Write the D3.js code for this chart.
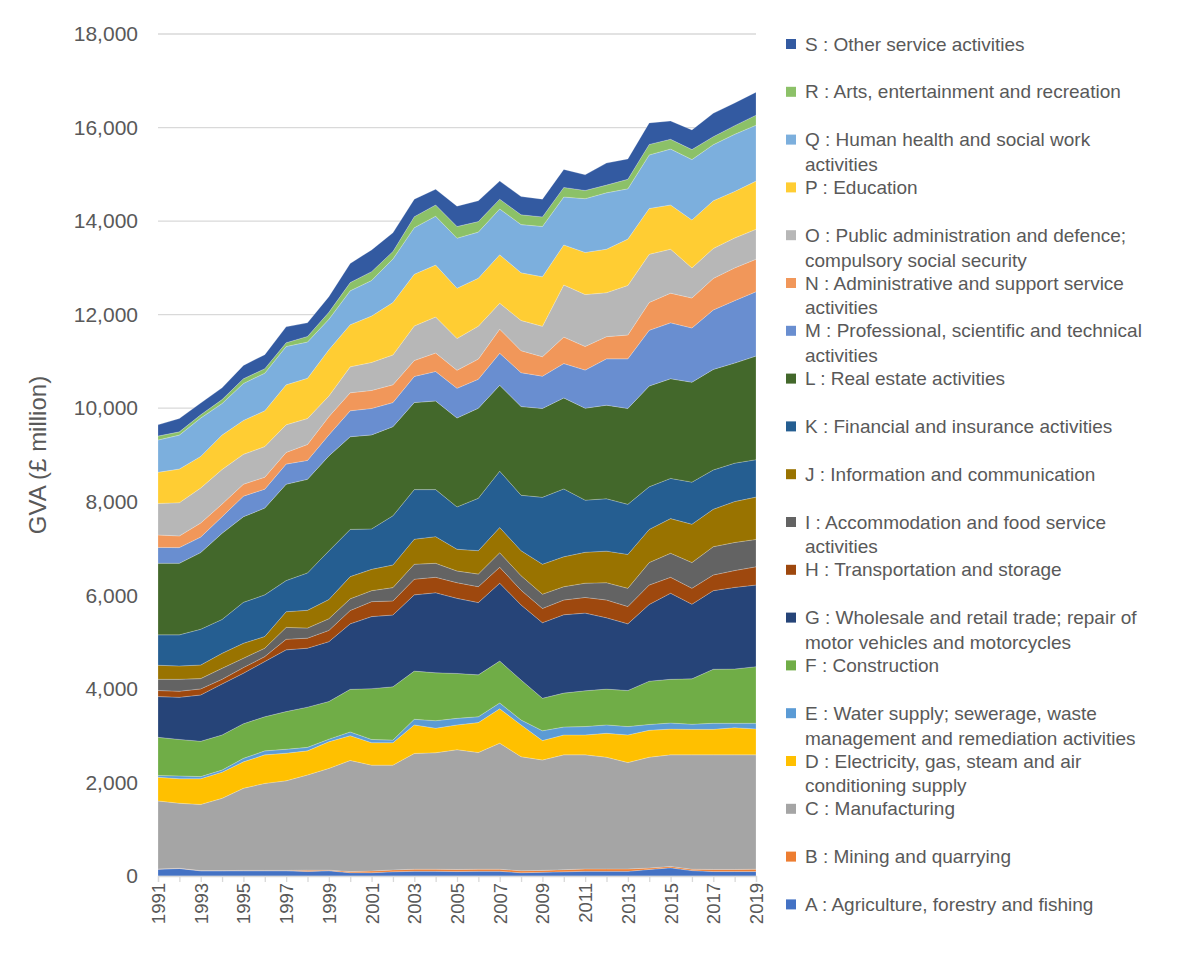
<!DOCTYPE html>
<html>
<head>
<meta charset="utf-8">
<script src="https://cdn.jsdelivr.net/npm/d3@7"></script>
<style>
  body { margin: 0; background: #fff; }
  svg { font-family: "Liberation Sans", Arial, sans-serif; }
</style>
</head>
<body>
<div id="chart"></div>
<script>
// Years on the x axis
const years = [1991, 1992, 1993, 1994, 1995, 1996, 1997, 1998, 1999, 2000,
               2001, 2002, 2003, 2004, 2005, 2006, 2007, 2008, 2009, 2010,
               2011, 2012, 2013, 2014, 2015, 2016, 2017, 2018, 2019];

// GVA by industry (£ million), bottom layer first
const A = [145, 160, 110, 110, 110, 110, 110, 95, 110, 70, 70, 90, 100, 100, 95, 100, 100, 70, 80, 90, 100, 100, 100, 140, 175, 115, 95, 95, 95];
const B = [5, 5, 5, 5, 10, 10, 10, 30, 15, 25, 35, 40, 45, 45, 45, 45, 45, 40, 40, 45, 50, 50, 50, 30, 30, 30, 45, 45, 50];
const C = [1455, 1390, 1415, 1545, 1755, 1860, 1915, 2035, 2175, 2375, 2265, 2240, 2475, 2490, 2560, 2495, 2695, 2440, 2360, 2455, 2440, 2390, 2275, 2370, 2385, 2445, 2450, 2450, 2445];
const D = [505, 525, 550, 560, 565, 610, 590, 515, 570, 530, 480, 480, 610, 525, 530, 640, 735, 680, 415, 425, 425, 510, 590, 575, 550, 545, 545, 580, 555];
const E = [40, 60, 45, 45, 75, 85, 85, 75, 55, 80, 70, 55, 120, 160, 140, 125, 125, 105, 210, 170, 180, 180, 180, 125, 130, 110, 130, 95, 120];
const F = [815, 780, 755, 750, 740, 730, 805, 860, 805, 910, 1085, 1140, 1030, 1025, 960, 895, 895, 855, 695, 725, 765, 765, 770, 925, 935, 970, 1155, 1160, 1210];
const G = [870, 900, 990, 1090, 1080, 1180, 1320, 1260, 1280, 1400, 1540, 1535, 1630, 1710, 1605, 1545, 1665, 1605, 1615, 1675, 1660, 1525, 1425, 1640, 1840, 1595, 1680, 1745, 1745];
const H = [130, 130, 130, 100, 120, 105, 225, 215, 240, 285, 320, 300, 335, 330, 335, 340, 340, 315, 305, 315, 335, 380, 370, 415, 340, 340, 335, 360, 390];
const I = [240, 255, 220, 235, 200, 180, 255, 215, 250, 250, 235, 285, 320, 300, 250, 270, 310, 310, 305, 285, 305, 370, 390, 480, 515, 550, 605, 600, 585];
const J = [300, 285, 290, 320, 320, 250, 335, 380, 410, 475, 455, 485, 535, 570, 465, 500, 540, 535, 640, 640, 660, 675, 725, 710, 740, 820, 800, 875, 905];
const K = [650, 665, 765, 725, 875, 890, 665, 800, 1040, 1010, 865, 1050, 1060, 1005, 905, 1120, 1205, 1185, 1430, 1450, 1115, 1120, 1070, 910, 860, 900, 840, 820, 800];
const L = [1530, 1530, 1640, 1840, 1830, 1855, 2060, 2000, 2030, 1980, 2010, 1905, 1860, 1895, 1900, 1925, 1835, 1895, 1900, 1945, 1965, 2000, 2050, 2155, 2130, 2135, 2150, 2140, 2215];
const M = [340, 335, 330, 355, 440, 405, 430, 405, 450, 555, 565, 515, 560, 630, 635, 620, 685, 725, 690, 735, 815, 990, 1060, 1190, 1195, 1160, 1270, 1335, 1375];
const N = [265, 250, 300, 270, 255, 255, 250, 340, 390, 385, 385, 380, 340, 395, 385, 430, 515, 470, 415, 565, 505, 475, 510, 595, 635, 640, 675, 700, 695];
const O = [675, 710, 750, 740, 640, 655, 590, 555, 440, 555, 600, 640, 740, 770, 680, 705, 555, 645, 650, 1115, 1110, 940, 1060, 1030, 940, 645, 640, 640, 640];
const P = [665, 720, 675, 735, 725, 765, 855, 860, 990, 900, 990, 1120, 1105, 1110, 1075, 1025, 1035, 1020, 1060, 855, 900, 930, 990, 980, 945, 1025, 1020, 995, 1030];
const Q = [690, 725, 820, 675, 790, 805, 820, 775, 650, 725, 760, 930, 995, 1045, 1070, 985, 980, 1030, 1075, 1025, 1150, 1205, 1075, 1145, 1195, 1290, 1200, 1220, 1195];
const R = [85, 70, 70, 85, 100, 95, 80, 120, 150, 175, 190, 160, 235, 240, 250, 225, 210, 210, 205, 205, 175, 165, 205, 225, 210, 215, 170, 185, 215];
const S = [240, 285, 250, 250, 285, 300, 340, 290, 335, 410, 465, 400, 375, 335, 435, 445, 385, 390, 380, 385, 335, 470, 435, 460, 390, 420, 500, 485, 490];

const seriesNames = [
  "A : Agriculture, forestry and fishing",
  "B : Mining and quarrying",
  "C : Manufacturing",
  "D : Electricity, gas, steam and air conditioning supply",
  "E : Water supply; sewerage, waste management and remediation activities",
  "F : Construction",
  "G : Wholesale and retail trade; repair of motor vehicles and motorcycles",
  "H : Transportation and storage",
  "I : Accommodation and food service activities",
  "J : Information and communication",
  "K : Financial and insurance activities",
  "L : Real estate activities",
  "M : Professional, scientific and technical activities",
  "N : Administrative and support service activities",
  "O : Public administration and defence; compulsory social security",
  "P : Education",
  "Q : Human health and social work activities",
  "R : Arts, entertainment and recreation",
  "S : Other service activities"
];
// how the legend breaks the long names
const legendLines = [
  ["A : Agriculture, forestry and fishing"],
  ["B : Mining and quarrying"],
  ["C : Manufacturing"],
  ["D : Electricity, gas, steam and air", "conditioning supply"],
  ["E : Water supply; sewerage, waste", "management and remediation activities"],
  ["F : Construction"],
  ["G : Wholesale and retail trade; repair of", "motor vehicles and motorcycles"],
  ["H : Transportation and storage"],
  ["I : Accommodation and food service", "activities"],
  ["J : Information and communication"],
  ["K : Financial and insurance activities"],
  ["L : Real estate activities"],
  ["M : Professional, scientific and technical", "activities"],
  ["N : Administrative and support service", "activities"],
  ["O : Public administration and defence;", "compulsory social security"],
  ["P : Education"],
  ["Q : Human health and social work", "activities"],
  ["R : Arts, entertainment and recreation"],
  ["S : Other service activities"]
];
const colors = ["#4472C4", "#ED7D31", "#A5A5A5", "#FFC000", "#5B9BD5", "#70AD47",
                "#264478", "#9E480E", "#636363", "#997300", "#255E91", "#43682B",
                "#698ED0", "#F1975A", "#B7B7B7", "#FFCD33", "#7CAFDD", "#8CC168", "#335AA1"];
const yTicks = [0, 2000, 4000, 6000, 8000, 10000, 12000, 14000, 16000, 18000];

const seriesValues = [A, B, C, D, E, F, G, H, I, J, K, L, M, N, O, P, Q, R, S];

// build rows for d3.stack
const rows = years.map((yr, i) => {
    const row = {year: yr};
    seriesNames.forEach((name, k) => { row[name] = seriesValues[k][i]; });
    return row;
});

const width = 1190, height = 960;
const svg = d3.select("#chart").append("svg")
    .attr("width", width)
    .attr("height", height);

const x = d3.scalePoint().domain(years).range([158, 756]);
const y = d3.scaleLinear().domain([0, 18000]).range([876, 34]);

// gridlines
svg.append("g")
    .selectAll("line")
    .data(yTicks)
    .enter().append("line")
    .attr("x1", 158).attr("x2", 756)
    .attr("y1", d => y(d)).attr("y2", d => y(d))
    .attr("stroke", "#d9d9d9")
    .attr("stroke-width", 1.3);

// stacked areas
const stack = d3.stack().keys(seriesNames);
const layers = stack(rows);
const area = d3.area()
    .x(d => x(d.data.year))
    .y0(d => y(d[0]))
    .y1(d => y(d[1]));

svg.append("g")
    .selectAll("path")
    .data(layers)
    .enter().append("path")
    .attr("d", area)
    .attr("fill", (d, i) => colors[i])
    .attr("stroke", "#ffffff")
    .attr("stroke-opacity", 0.35)
    .attr("stroke-width", 0.6);

// y axis labels
const yAxis = svg.append("g")
    .attr("transform", "translate(158,0)")
    .call(d3.axisLeft(y).tickValues(yTicks).tickFormat(d3.format(",")).tickSize(0).tickPadding(20));
yAxis.select(".domain").remove();
yAxis.selectAll("text")
    .attr("fill", "#595959")
    .style("font-size", "21px");

// x axis: ticks every year, labels every other year
const xAxis = svg.append("g")
    .attr("transform", "translate(0,876)")
    .call(d3.axisBottom(x).tickSize(6).tickFormat(d => (d - 1991) % 2 === 0 ? d : ""));
xAxis.select(".domain").attr("stroke", "#d9d9d9").attr("stroke-width", 1.3);
xAxis.selectAll(".tick line").attr("stroke", "#d9d9d9").attr("stroke-width", 1.3);
xAxis.selectAll("text")
    .attr("fill", "#595959")
    .style("font-size", "18.5px")
    .attr("transform", "rotate(-90)")
    .attr("text-anchor", "end")
    .attr("x", -7)
    .attr("y", 0)
    .attr("dy", "0.35em");

// y axis title
svg.append("text")
    .attr("transform", "translate(46,455) rotate(-90)")
    .attr("text-anchor", "middle")
    .attr("fill", "#595959")
    .style("font-size", "24px")
    .text("GVA (£ million)");

// legend, top entry is S
const legend = svg.append("g");
const legendTop = 44, legendStep = 47.8;
for (let k = seriesNames.length - 1; k >= 0; k--) {
    const row = seriesNames.length - 1 - k;
    const cy = legendTop + row * legendStep;
    const g = legend.append("g").attr("transform", `translate(786,${cy})`);
    g.append("rect")
        .attr("x", 0).attr("y", -5)
        .attr("width", 10).attr("height", 10)
        .attr("fill", colors[k]);
    const t = g.append("text")
        .attr("x", 19)
        .attr("y", 0)
        .attr("fill", "#595959")
        .style("font-size", "19px");
    legendLines[k].forEach((line, j) => {
        t.append("tspan").attr("x", 19).attr("dy", j === 0 ? "0.35em" : "1.3em").text(line);
    });
}
</script>
</body>
</html>
